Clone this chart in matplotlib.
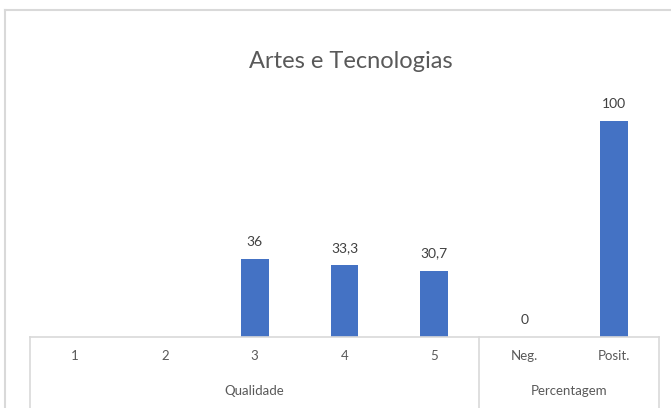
import numpy as np
import matplotlib
matplotlib.use("Agg")
import matplotlib.pyplot as plt
from matplotlib.lines import Line2D
import matplotlib.transforms as mtransforms

# data
categories = ["1", "2", "3", "4", "5", "Neg.", "Posit."]
groups = ["Qualidade", "Percentagem"]
group_sizes = [5, 2]
values = [np.nan, np.nan, 36, 33.3, 30.7, 0, 100]

bar_color = "#4472C4"
text_color = "#595959"
line_color = "#D9D9D9"

plt.rcParams["font.family"] = ["Lato", "DejaVu Sans"]

W, H = 671, 408
fig = plt.figure(figsize=(W / 100, H / 100), dpi=100)
ax = fig.add_axes([30 / W, (H - 337) / H, (659 - 30) / W, (337 - 78) / H])

x = np.arange(len(categories))
ax.bar(x, values, width=0.31, color=bar_color, zorder=2)
for xi, v in zip(x, values):
    if np.isnan(v):
        continue
    lbl = f"{v:g}".replace(".", ",")
    ax.annotate(lbl, (xi, v), xytext=(0, 8), textcoords="offset points",
                ha="center", va="bottom", fontsize=10, color="#404040")

ax.set_xlim(-0.5, len(categories) - 0.5)
ax.set_ylim(0, 120)
ax.set_yticks([])
ax.set_xticks([])
for s in ["top", "left", "right"]:
    ax.spines[s].set_visible(False)
ax.spines["bottom"].set_color(line_color)
ax.spines["bottom"].set_linewidth(1.2)

# multi-level category axis
trans = mtransforms.blended_transform_factory(ax.transData, ax.transAxes)
row1 = -19 / (337 - 78)
row2 = -54 / (337 - 78)
bottom = -(H - 337) / (337 - 78)
for xi, c in zip(x, categories):
    ax.text(xi, row1, c, transform=trans, ha="center", va="center",
            fontsize=9.5, color=text_color)
start = 0
bounds = [-0.5]
for g, n in zip(groups, group_sizes):
    ax.text(start + (n - 1) / 2, row2, g, transform=trans, ha="center",
            va="center", fontsize=9.5, color=text_color)
    start += n
    bounds.append(start - 0.5)
for b in bounds:
    ax.add_line(Line2D([b, b], [0, bottom], transform=trans, color=line_color,
                       linewidth=1.2, clip_on=False))

fig.text(351 / W, 1 - 62 / H, "Artes e Tecnologias", fontsize=17,
         color=text_color, ha="center", va="center")

# outer chart border (top and left edges visible)
fig.add_artist(Line2D([5 / W, 1], [1 - 10 / H, 1 - 10 / H], transform=fig.transFigure,
                      color=line_color, linewidth=1.5))
fig.add_artist(Line2D([5 / W, 5 / W], [0, 1 - 10 / H], transform=fig.transFigure,
                      color=line_color, linewidth=1.5))

fig.savefig("out.png", dpi=100)
